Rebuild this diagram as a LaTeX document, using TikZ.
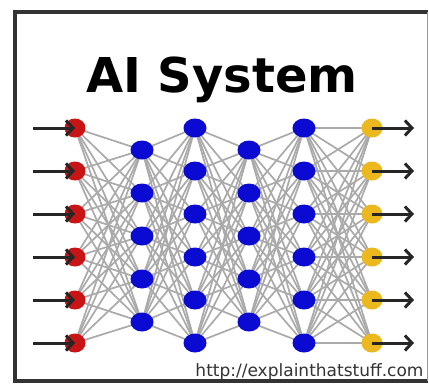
\documentclass[tikz,border=0pt]{standalone}
\usepackage{fontspec}
\setmainfont{DejaVu Sans}
\usepackage{tikz}
\usetikzlibrary{shapes.geometric,arrows.meta}

\definecolor{inred}{RGB}{200,20,20}
\definecolor{hidblue}{RGB}{10,10,210}
\definecolor{outgold}{RGB}{235,185,30}
\definecolor{wire}{RGB}{170,170,170}

\begin{document}
\begin{tikzpicture}[
    x=1pt, y=-1pt,
    neuron/.style={ellipse, inner sep=0pt, minimum width=23pt, minimum height=19pt},
    innode/.style={neuron, fill=inred, minimum width=21pt},
    hidnode/.style={neuron, fill=hidblue},
    outnode/.style={neuron, fill=outgold, minimum width=21pt},
    wire/.style={draw=wire, line width=1.7pt},
    signal/.style={-{Straight Barb[length=7pt,width=15pt]}, line width=3pt, black!85}
]
    \useasboundingbox (0,0) rectangle (429,384);
    \fill[white] (0,0) rectangle (429,384);
    \draw[line width=3.5pt, black!80] (428,12) -- (15,12) -- (15,381) -- (428,381);
    \draw[line width=1pt, black!40] (427.5,12) -- (427.5,381);

    \node[anchor=base, font=\bfseries\fontsize{48}{48}\selectfont] (title) at (222,92) {AI System};

    \foreach \k in {1,...,6} {
        \coordinate (src\k) at (33,{128+43*(\k-1)});
        \coordinate (dst\k) at (414,{128+43*(\k-1)});
        \coordinate (in\k) at (75,{128+43*(\k-1)});
        \coordinate (hb\k) at (195,{128+43*(\k-1)});
        \coordinate (hd\k) at (304,{128+43*(\k-1)});
        \coordinate (out\k) at (372,{128+43*(\k-1)});
    }
    \foreach \k in {1,...,5} {
        \coordinate (ha\k) at (142,{150+43*(\k-1)});
        \coordinate (hc\k) at (249,{150+43*(\k-1)});
    }

    \foreach \i in {1,...,6} \foreach \j in {1,...,5} {
        \draw[wire] (in\i) -- (ha\j);
        \draw[wire] (ha\j) -- (hb\i);
        \draw[wire] (hb\i) -- (hc\j);
        \draw[wire] (hc\j) -- (hd\i);
    }
    \foreach \i in {1,...,6} \foreach \j in {1,...,6}
        \draw[wire] (hd\i) -- (out\j);

    \foreach \k in {1,...,6} {
        \node[innode] (x\k) at (in\k) {};
        \node[hidnode] (b\k) at (hb\k) {};
        \node[hidnode] (d\k) at (hd\k) {};
        \node[outnode] (y\k) at (out\k) {};
    }
    \foreach \k in {1,...,5} {
        \node[hidnode] (a\k) at (ha\k) {};
        \node[hidnode] (c\k) at (hc\k) {};
    }

    \foreach \k in {1,...,6} {
        \draw[signal] (src\k) -- (x\k.center);
        \draw[signal] (y\k.center) -- (dst\k);
    }

    \node[anchor=base east, text=black!80, font=\fontsize{17}{17}\selectfont] (url) at (427,376) {http://explainthatstuff.com};
\end{tikzpicture}
\end{document}
